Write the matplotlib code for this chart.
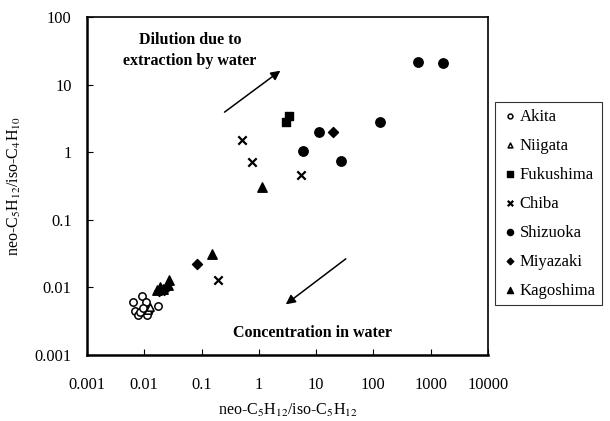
import matplotlib
matplotlib.use('Agg')
import matplotlib.pyplot as plt
from matplotlib.ticker import FixedLocator, NullLocator

plt.rcParams['font.family'] = ['Liberation Serif', 'DejaVu Serif']
plt.rcParams['mathtext.fontset'] = 'stix'

#%% data
akita_x = [0.0063, 0.0091, 0.0107, 0.0174, 0.0069, 0.0078, 0.011, 0.0121, 0.0084, 0.0095]
akita_y = [0.0061, 0.0075, 0.0061, 0.0053, 0.0045, 0.0039, 0.0039, 0.0046, 0.0043, 0.0049]
niigata_x = [0.0118, 0.0125]
niigata_y = [0.0046, 0.0052]
fukushima_x = [3.4, 3.0]
fukushima_y = [3.4, 2.8]
chiba_x = [0.50, 0.76, 5.4, 0.19]
chiba_y = [1.5, 0.72, 0.46, 0.013]
shizuoka_x = [600, 1630, 130, 11.2, 5.9, 27]
shizuoka_y = [21.6, 21.0, 2.8, 2.0, 1.05, 0.74]
miyazaki_x = [19.6, 0.083, 0.018, 0.022]
miyazaki_y = [2.0, 0.022, 0.0087, 0.0090]
kagoshima_x = [1.13, 0.15, 0.027, 0.026, 0.019, 0.0165, 0.021]
kagoshima_y = [0.31, 0.031, 0.013, 0.011, 0.0102, 0.0093, 0.0094]

ticks = [0.001, 0.01, 0.1, 1, 10, 100, 1000, 10000]
tick_labels = ['0.001', '0.01', '0.1', '1', '10', '100', '1000', '10000']

#%% plotting
fig = plt.figure(figsize=(6.1, 4.21), dpi=100)
ax = fig.add_axes([0.1426, 0.1568, 0.6574, 0.8028])
ax.set_xscale('log')
ax.set_yscale('log')

ax.scatter(akita_x, akita_y, marker='o', s=28, facecolors='white', edgecolors='black', linewidths=1.1, label='Akita', zorder=3)
ax.scatter(niigata_x, niigata_y, marker='^', s=28, facecolors='white', edgecolors='black', linewidths=1.1, label='Niigata', zorder=3)
ax.scatter(fukushima_x, fukushima_y, marker='s', s=40, c='black', label='Fukushima', zorder=3)
ax.scatter(chiba_x, chiba_y, marker='x', s=36, c='black', linewidths=1.6, label='Chiba', zorder=3)
ax.scatter(shizuoka_x, shizuoka_y, marker='o', s=46, c='black', label='Shizuoka', zorder=3)
ax.scatter(miyazaki_x, miyazaki_y, marker='D', s=26, c='black', label='Miyazaki', zorder=3)
ax.scatter(kagoshima_x, kagoshima_y, marker='^', s=46, c='black', label='Kagoshima', zorder=3)

ax.set_xlim(0.001, 10000)
ax.set_ylim(0.001, 100)
ax.xaxis.set_major_locator(FixedLocator(ticks))
ax.xaxis.set_minor_locator(NullLocator())
ax.set_xticklabels(tick_labels)
ax.yaxis.set_major_locator(FixedLocator(ticks[:6]))
ax.yaxis.set_minor_locator(NullLocator())
ax.set_yticklabels(tick_labels[:6])
ax.tick_params(axis='x', direction='in', length=4, pad=16, labelsize=11.8)
ax.tick_params(axis='y', direction='in', length=4, pad=11, labelsize=11.8)

for side in ['left', 'bottom']:
    ax.spines[side].set_linewidth(1.8)
for side in ['top', 'right']:
    ax.spines[side].set_linewidth(1.2)

ax.set_xlabel(r'neo-C$_5$H$_{12}$/iso-C$_5$H$_{12}$', fontsize=11.5, labelpad=6)
ax.set_ylabel(r'neo-C$_5$H$_{12}$/iso-C$_4$H$_{10}$', fontsize=11.5, labelpad=8)

ax.annotate('', xy=(2.6, 17), xytext=(0.23, 3.7),
            arrowprops=dict(arrowstyle='-|>', color='black', lw=1.1, mutation_scale=14))
ax.annotate('', xy=(2.7, 0.0053), xytext=(36, 0.028),
            arrowprops=dict(arrowstyle='-|>', color='black', lw=1.1, mutation_scale=14))
ax.text(0.063, 32, 'Dilution due to\nextraction by water', ha='center', va='center',
        fontsize=11.5, fontweight='bold', linespacing=1.45)
ax.text(8.5, 0.0021, 'Concentration in water', ha='center', va='center',
        fontsize=11.5, fontweight='bold')

leg = ax.legend(loc='upper left', bbox_to_anchor=(0.811, 0.758), bbox_transform=fig.transFigure,
                frameon=True, fancybox=False, edgecolor='black', markerscale=0.65,
                handletextpad=0.1, handlelength=1.0, labelspacing=0.78, borderpad=0.4,
                borderaxespad=0, prop={'size': 12})
leg.get_frame().set_linewidth(0.8)

fig.savefig('out.png', dpi=100)
